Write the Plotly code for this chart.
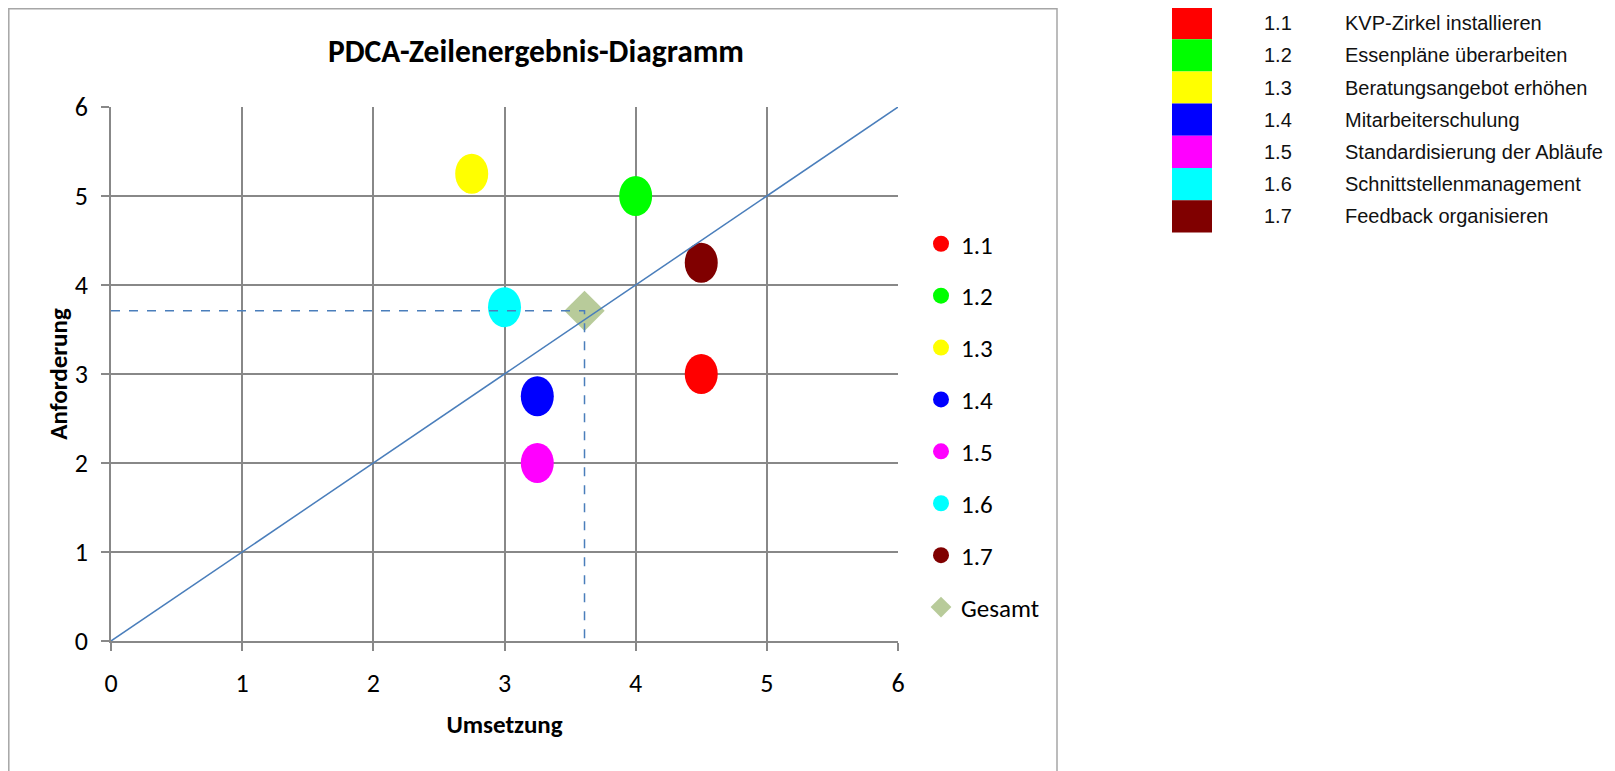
import plotly.graph_objects as go

# ---- data ----
codes = ["1.1", "1.2", "1.3", "1.4", "1.5", "1.6", "1.7"]
names = ["KVP-Zirkel installieren", "Essenpläne überarbeiten", "Beratungsangebot erhöhen",
         "Mitarbeiterschulung", "Standardisierung der Abläufe", "Schnittstellenmanagement",
         "Feedback organisieren"]
umsetzung = [4.5, 4.0, 2.75, 3.25, 3.25, 3.0, 4.5]
anforderung = [3.0, 5.0, 5.25, 2.75, 2.0, 3.75, 4.25]
colors = ["#FF0000", "#00FF00", "#FFFF00", "#0000FF", "#FF00FF", "#00FFFF", "#800000"]
gesamt_x = [3.61]
gesamt_y = [3.71]
diag_x = [0, 6]
diag_y = [0, 6]
ticks = [0, 1, 2, 3, 4, 5, 6]

# ---- layout geometry (page pixels; page body has an 8px margin) ----
OFF = 8
W, H = 1615, 771
PL, PR, PT, PB = 111 - OFF, 898 - OFF, 107 - OFF, 641 - OFF
pw, ph = PR - PL, PB - PT

def px(x):
    return (x - OFF - PL) / pw

def py(y):
    return (PB - (y - OFF)) / ph

FONT = "Calibri, Carlito, Lato, sans-serif"
LINE_BLUE = "#4A7EBB"

fig = go.Figure()

# ellipse shapes for the bubbles (anchored at data values, pixel size)
shapes = []
for xv, yv, c in zip(umsetzung, anforderung, colors):
    shapes.append(dict(type="circle", xref="x", yref="y", xsizemode="pixel", ysizemode="pixel",
                       xanchor=xv, yanchor=yv, x0=-16.5, x1=16.5, y0=-20, y1=20,
                       fillcolor=c, line=dict(width=0), layer="between"))

for code, xv, yv, c in zip(codes, umsetzung, anforderung, colors):
    fig.add_trace(go.Scatter(x=[xv], y=[yv], mode="markers", name=code, legendgroup=code,
                             marker=dict(color=c, size=16, symbol="circle", line=dict(width=0)),
                             hoverinfo="x+y+name"))

fig.add_trace(go.Scatter(x=gesamt_x, y=gesamt_y, mode="markers", name="Gesamt", legendgroup="Gesamt",
                         marker=dict(color="#B8CB9A", size=31, symbol="diamond", line=dict(width=0))))

# diagonal line
fig.add_trace(go.Scatter(x=diag_x, y=diag_y, mode="lines", showlegend=False,
                         line=dict(color=LINE_BLUE, width=1.5), hoverinfo="skip"))
# dashed guide lines to Gesamt
fig.add_trace(go.Scatter(x=[0, gesamt_x[0], gesamt_x[0]], y=[gesamt_y[0], gesamt_y[0], 0],
                         mode="lines", showlegend=False,
                         line=dict(color=LINE_BLUE, width=1.5, dash="dash"), hoverinfo="skip"))

# chart border (left, top, right) - drawn at the figure's edge on the left/top
bx0, by0, bx1 = OFF + 0.8, OFF + 0.8, 1057
shapes.append(dict(type="path", xref="paper", yref="paper",
                   path=f"M {px(bx0)} {py(790)} L {px(bx0)} {py(by0)} L {px(bx1)} {py(by0)} L {px(bx1)} {py(790)}",
                   line=dict(color="#A6A6A6", width=1.5)))

# right side table
annotations = []
row_h = 32.2
top0 = 7
for i, (code, nm, c) in enumerate(zip(codes, names, colors)):
    y0 = top0 + i * row_h
    y1 = y0 + row_h
    shapes.append(dict(type="rect", xref="paper", yref="paper",
                       x0=px(1172), x1=px(1212), y0=py(y1), y1=py(y0),
                       fillcolor=c, line=dict(width=0)))
    yc = py((y0 + y1) / 2)
    annotations.append(dict(xref="paper", yref="paper", x=px(1262), y=yc, text=code,
                            showarrow=False, xanchor="left", yanchor="middle",
                            font=dict(family="Liberation Sans, Arial", size=20, color="#111")))
    annotations.append(dict(xref="paper", yref="paper", x=px(1343), y=yc, text=nm,
                            showarrow=False, xanchor="left", yanchor="middle",
                            font=dict(family="Liberation Sans, Arial", size=20, color="#111")))

axis_common = dict(range=[0, 6], tickvals=ticks, showgrid=True, gridcolor="#888888", gridwidth=1.5,
                   showline=True, linecolor="#888888", linewidth=1.5, ticks="outside",
                   ticklen=8, tickcolor="#888888", tickwidth=1.5, zeroline=False,
                   tickfont=dict(family=FONT, size=26, color="#000"))

fig.update_layout(
    width=W, height=H,
    margin=dict(l=PL, r=W - PR, t=PT, b=H - PB, autoexpand=False),
    paper_bgcolor="white", plot_bgcolor="white",
    title=dict(text="<b>PDCA-Zeilenergebnis-Diagramm</b>", x=px(536), xref="paper", xanchor="center",
               y=1 - (51 - OFF) / H, yref="container", yanchor="middle",
               font=dict(family=FONT, size=31.5, color="#000")),
    xaxis=dict(**axis_common, title=dict(text="<b>Umsetzung</b>", standoff=18,
                                         font=dict(family=FONT, size=25, color="#000")),
               ticklabelstandoff=10),
    yaxis=dict(**axis_common, title=dict(text="<b>Anforderung</b>", standoff=0,
                                         font=dict(family=FONT, size=25, color="#000")),
               ticklabelstandoff=8),
    legend=dict(x=px(921), xanchor="left", y=py(221), yanchor="top",
                font=dict(family=FONT, size=25, color="#000"),
                tracegroupgap=16.4, bgcolor="rgba(0,0,0,0)", itemclick=False),
    shapes=shapes,
    annotations=annotations,
    showlegend=True,
)

fig.write_html("out.html")
